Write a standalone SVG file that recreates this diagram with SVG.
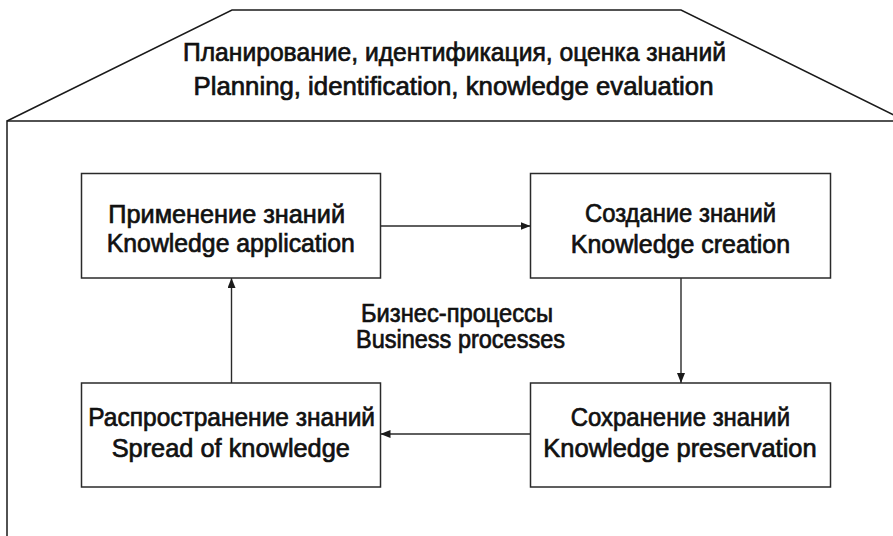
<svg xmlns="http://www.w3.org/2000/svg" width="893" height="536" viewBox="0 0 893 536">
  <style>
    .frame { fill: none; stroke: #1a1a1a; stroke-width: 1.5; }
    .box { fill: #fff; stroke: #2a2a2a; stroke-width: 1.5; }
    .link { fill: none; stroke: #2a2a2a; stroke-width: 1.4; }
    .label { font-family: "Liberation Sans", Arial, sans-serif; font-size: 25.5px; fill: #111; text-anchor: middle; stroke: #111; stroke-width: 0.7; }
  </style>
  <defs>
    <marker id="arrow" viewBox="0 0 10 8" refX="10" refY="4" markerWidth="10" markerHeight="8" markerUnits="userSpaceOnUse" orient="auto">
      <path d="M0,0 L10,4 L0,8 Z" fill="#1a1a1a"/>
    </marker>
  </defs>
  <rect width="893" height="536" fill="#fff"/>

  <!-- house outline: roof and walls -->
  <g id="house">
    <path class="frame" d="M7,121 L232,10 L681,10 L906,121"/>
    <path class="frame" d="M7,536 L7,121 L893,121"/>
    <text class="label" x="454.5" y="61" textLength="543" lengthAdjust="spacingAndGlyphs">Планирование, идентификация, оценка знаний</text>
    <text class="label" x="453.5" y="95" textLength="520" lengthAdjust="spacingAndGlyphs">Planning, identification, knowledge evaluation</text>
  </g>

  <g id="center-label">
    <text class="label" x="457" y="322" textLength="192" lengthAdjust="spacingAndGlyphs">Бизнес-процессы</text>
    <text class="label" x="460.5" y="348" textLength="209" lengthAdjust="spacingAndGlyphs">Business processes</text>
  </g>

  <g id="connectors">
    <line class="link" x1="380.5" y1="226" x2="530.5" y2="226" marker-end="url(#arrow)"/>
    <line class="link" x1="681" y1="278" x2="681" y2="383" marker-end="url(#arrow)"/>
    <line class="link" x1="530.5" y1="434" x2="380.5" y2="434" marker-end="url(#arrow)"/>
    <line class="link" x1="231.5" y1="383" x2="231.5" y2="278" marker-end="url(#arrow)"/>
  </g>

  <g id="application">
    <rect class="box" x="81.5" y="173.5" width="299" height="104.5"/>
    <text class="label" x="226.7" y="223" textLength="236.7" lengthAdjust="spacingAndGlyphs">Применение знаний</text>
    <text class="label" x="230.8" y="252" textLength="248" lengthAdjust="spacingAndGlyphs">Knowledge application</text>
  </g>

  <g id="creation">
    <rect class="box" x="530.5" y="173.5" width="300" height="104.5"/>
    <text class="label" x="680.5" y="222" textLength="191" lengthAdjust="spacingAndGlyphs">Создание знаний</text>
    <text class="label" x="680.4" y="252.5" textLength="219.3" lengthAdjust="spacingAndGlyphs">Knowledge creation</text>
  </g>

  <g id="preservation">
    <rect class="box" x="530.5" y="383" width="300" height="104"/>
    <text class="label" x="680.4" y="426" textLength="219.3" lengthAdjust="spacingAndGlyphs">Сохранение знаний</text>
    <text class="label" x="680" y="456.5" textLength="273.4" lengthAdjust="spacingAndGlyphs">Knowledge preservation</text>
  </g>

  <g id="spread">
    <rect class="box" x="81.5" y="383" width="299" height="104"/>
    <text class="label" x="231.7" y="425.5" textLength="286.7" lengthAdjust="spacingAndGlyphs">Распространение знаний</text>
    <text class="label" x="230.8" y="456.5" textLength="238.3" lengthAdjust="spacingAndGlyphs">Spread of knowledge</text>
  </g>
</svg>
